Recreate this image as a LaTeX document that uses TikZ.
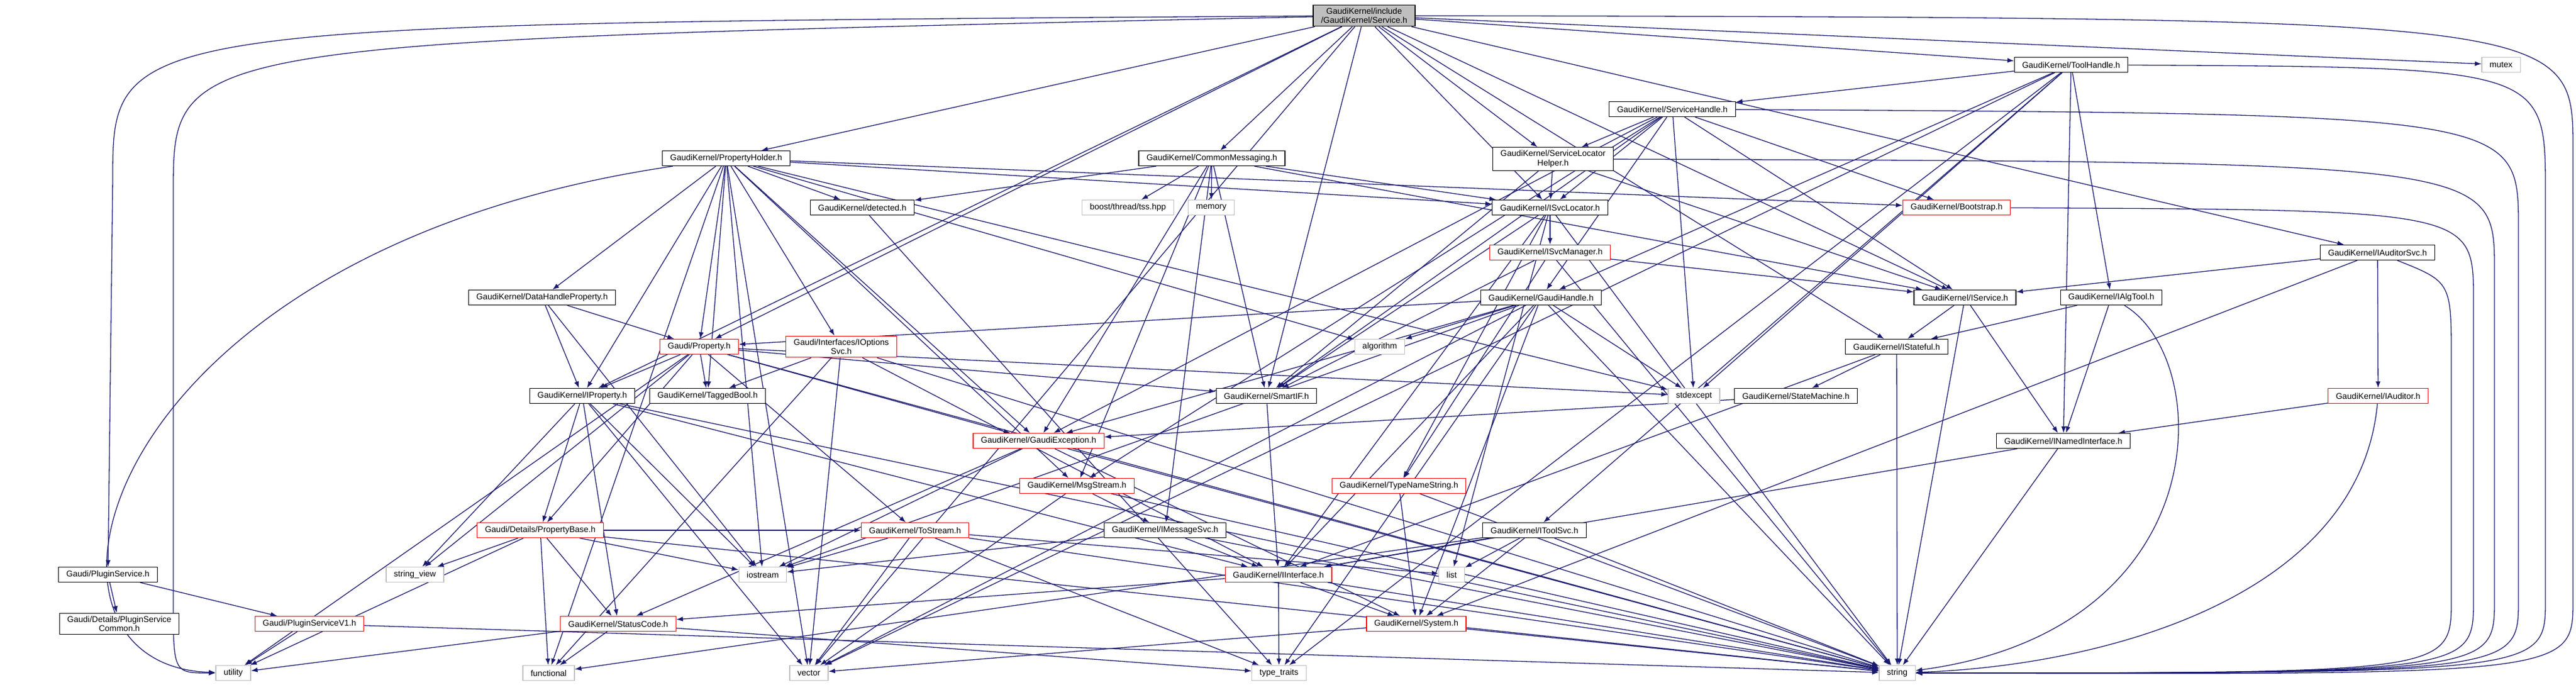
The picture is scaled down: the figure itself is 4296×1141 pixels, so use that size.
\documentclass[tikz,border=0pt]{standalone}
\usepackage{fontspec}
\setmainfont{Liberation Sans}
\usetikzlibrary{arrows.meta,backgrounds}

\definecolor{edgeblue}{RGB}{25,25,112}
\definecolor{sysgray}{RGB}{191,191,191}
\definecolor{cutred}{RGB}{255,0,0}

\begin{document}
\begin{tikzpicture}[
    x=0.5pt, y=0.5pt,
    font=\fontsize{7}{7.7}\selectfont,
    hdr/.style={draw=black, line width=0.6pt, fill=white, inner xsep=6.5pt, inner ysep=2.5pt, minimum height=12.5pt, align=center},
    hdrcut/.style={hdr, draw=cutred},
    syshdr/.style={hdr, draw=sysgray},
    roothdr/.style={hdr, fill=sysgray},
    dep/.style={draw=edgeblue, fill=none, line width=0.65pt, -{Latex[length=5.5pt,width=4pt,fill=edgeblue]}}
  ]

  \useasboundingbox (0,0) rectangle (4296,-1141);

  % Headers, top to bottom
  \node[roothdr] (svc) at (2275,-26) {GaudiKernel/include\\/GaudiKernel/Service.h};
  \node[hdr] (toolh) at (3454,-108) {GaudiKernel/ToolHandle.h};
  \node[syshdr] (mutex) at (4171,-108) {mutex};
  \node[hdr] (svch) at (2789,-182) {GaudiKernel/ServiceHandle.h};
  \node[hdr] (pholder) at (1211,-264) {GaudiKernel/PropertyHolder.h};
  \node[hdr] (cmsg) at (2021,-264) {GaudiKernel/CommonMessaging.h};
  \node[hdr] (slh) at (2590,-265) {GaudiKernel/ServiceLocator\\Helper.h};
  \node[hdr] (detected) at (1438,-346) {GaudiKernel/detected.h};
  \node[syshdr] (tss) at (1881,-346) {boost/thread/tss.hpp};
  \node[syshdr] (memory) at (2020,-346) {memory};
  \node[hdr] (isvcloc) at (2585,-346) {GaudiKernel/ISvcLocator.h};
  \node[hdrcut] (boot) at (3263,-346) {GaudiKernel/Bootstrap.h};
  \node[hdrcut] (isvcmgr) at (2585,-421) {GaudiKernel/ISvcManager.h};
  \node[hdr] (iaudsvc) at (3965,-421) {GaudiKernel/IAuditorSvc.h};
  \node[hdr] (dhprop) at (904,-496) {GaudiKernel/DataHandleProperty.h};
  \node[hdr] (ghandle) at (2570,-496) {GaudiKernel/GaudiHandle.h};
  \node[hdr] (iservice) at (3277,-496) {GaudiKernel/IService.h};
  \node[hdr] (ialgtool) at (3521,-496) {GaudiKernel/IAlgTool.h};
  \node[hdrcut] (prop) at (1166,-578) {Gaudi/Property.h};
  \node[hdrcut] (iopts) at (1403,-578) {Gaudi/Interfaces/IOptions\\Svc.h};
  \node[syshdr] (algorithm) at (2301,-578) {algorithm};
  \node[hdr] (istateful) at (3163,-578) {GaudiKernel/IStateful.h};
  \node[hdr] (iprop) at (971,-660) {GaudiKernel/IProperty.h};
  \node[hdr] (tbool) at (1180,-660) {GaudiKernel/TaggedBool.h};
  \node[hdr] (smartif) at (2112,-660) {GaudiKernel/SmartIF.h};
  \node[syshdr] (stdexcept) at (2825,-660) {stdexcept};
  \node[hdr] (statem) at (2995,-660) {GaudiKernel/StateMachine.h};
  \node[hdrcut] (iauditor) at (3966,-660) {GaudiKernel/IAuditor.h};
  \node[hdrcut] (gexc) at (1732,-735) {GaudiKernel/GaudiException.h};
  \node[hdr] (inamed) at (3441,-735) {GaudiKernel/INamedInterface.h};
  \node[hdrcut] (msgs) at (1796,-810) {GaudiKernel/MsgStream.h};
  \node[hdrcut] (tns) at (2333,-810) {GaudiKernel/TypeNameString.h};
  \node[hdrcut] (pbase) at (901,-884) {Gaudi/Details/PropertyBase.h};
  \node[hdrcut] (tostr) at (1526,-884) {GaudiKernel/ToStream.h};
  \node[hdr] (imsgsvc) at (1943,-884) {GaudiKernel/IMessageSvc.h};
  \node[hdr] (itoolsvc) at (2559,-884) {GaudiKernel/IToolSvc.h};
  \node[hdr] (plugin) at (180,-958) {Gaudi/PluginService.h};
  \node[syshdr] (strview) at (692,-958) {string\_view};
  \node[syshdr] (iostream) at (1272,-958) {iostream};
  \node[hdrcut] (iiface) at (2132,-958) {GaudiKernel/IInterface.h};
  \node[syshdr] (list) at (2421,-958) {list};
  \node[hdr] (pcommon) at (199,-1040) {Gaudi/Details/PluginService\\Common.h};
  \node[hdrcut] (pv1) at (516,-1040) {Gaudi/PluginServiceV1.h};
  \node[hdrcut] (statuscode) at (1031,-1040) {GaudiKernel/StatusCode.h};
  \node[hdrcut] (system) at (2362,-1040) {GaudiKernel/System.h};
  \node[syshdr] (utility) at (389,-1122) {utility};
  \node[syshdr] (functional) at (915,-1122) {functional};
  \node[syshdr] (vector) at (1349,-1122) {vector};
  \node[syshdr] (typetraits) at (2133,-1122) {type\_traits};
  \node[syshdr] (string) at (3164,-1122) {string};

  % Include edges, kept behind the boxes
  \begin{scope}[on background layer]
  % Service.h
  \foreach \t in {toolh,mutex,cmsg,pholder,slh,isvcloc,iservice,istateful,iaudsvc,prop,iprop,smartif,vector}
    \draw[dep] (svc) -- (\t);
  \draw[dep] (svc) .. controls (188,-40) .. (188,-300) -- (plugin);
  \draw[dep] (svc) .. controls (289,-70) .. (289,-320) -- (289,-1000) .. controls (289,-1122) .. (utility);
  \draw[dep] (svc) .. controls (4291,-30) .. (4291,-250) -- (4291,-1000) .. controls (4291,-1125) .. (string);
  % ToolHandle.h
  \foreach \t in {svch,ghandle,ialgtool,inamed,itoolsvc,stdexcept,typetraits,vector}
    \draw[dep] (toolh) -- (\t);
  \draw[dep] (toolh) .. controls (4245,-112) .. (4245,-320) -- (4245,-1000) .. controls (4245,-1122) .. (string);
  % ServiceHandle.h
  \foreach \t in {slh,isvcloc,ghandle,iservice,boot,gexc,msgs,stdexcept,smartif}
    \draw[dep] (svch) -- (\t);
  \draw[dep] (svch) .. controls (4200,-190) .. (4200,-380) -- (4200,-1000) .. controls (4200,-1122) .. (string);
  % PropertyHolder.h
  \foreach \t in {prop,iopts,detected,dhprop,iprop,tbool,isvcloc,boot,gexc,msgs,algorithm,stdexcept,iostream,vector,functional}
    \draw[dep] (pholder) -- (\t);
  \draw[dep] (pholder) .. controls (150,-420) and (0,-1110) .. (utility);
  % CommonMessaging.h
  \foreach \t in {detected,tss,memory,isvcloc,iservice,imsgsvc,msgs,smartif,gexc}
    \draw[dep] (cmsg) -- (\t);
  % ServiceLocatorHelper.h
  \foreach \t in {isvcloc,iservice,smartif}
    \draw[dep] (slh) -- (\t);
  \draw[dep] (slh) .. controls (4160,-270) .. (4160,-450) -- (4160,-1000) .. controls (4160,-1122) .. (string);
  % ISvcLocator.h, ISvcManager.h
  \foreach \t in {isvcmgr,iiface,smartif,tns,list,string}
    \draw[dep] (isvcloc) -- (\t);
  \foreach \t in {iservice,smartif,tns,string}
    \draw[dep] (isvcmgr) -- (\t);
  % GaudiHandle.h
  \foreach \t in {prop,algorithm,stdexcept,gexc,iiface,system,typetraits,vector,iostream,string}
    \draw[dep] (ghandle) -- (\t);
  % Bootstrap.h
  \draw[dep] (boot) .. controls (4125,-350) .. (4125,-500) -- (4125,-1000) .. controls (4125,-1122) .. (string);
  % IAuditorSvc.h, IAuditor.h
  \foreach \t in {iservice,iauditor,system}
    \draw[dep] (iaudsvc) -- (\t);
  \draw[dep] (iaudsvc) .. controls (4088,-470) .. (4088,-600) -- (4088,-1000) .. controls (4088,-1122) .. (string);
  \draw[dep] (iauditor) -- (inamed);
  \draw[dep] (iauditor) .. controls (3934,-1000) and (3500,-1110) .. (string);
  % IAlgTool.h, IService.h, IStateful.h
  \draw[dep] (ialgtool) -- (inamed);
  \draw[dep] (ialgtool) -- (istateful);
  \draw[dep] (ialgtool) .. controls (3694,-600) and (3700,-1050) .. (string);
  \foreach \t in {istateful,inamed,string}
    \draw[dep] (iservice) -- (\t);
  \foreach \t in {statem,iiface,string}
    \draw[dep] (istateful) -- (\t);
  \draw[dep] (statem) -- (gexc);
  \draw[dep] (inamed) -- (iiface);
  \draw[dep] (inamed) -- (string);
  % properties
  \foreach \t in {prop,iprop,iostream}
    \draw[dep] (dhprop) -- (\t);
  \foreach \t in {iprop,pbase,tbool,smartif,tostr,gexc,stdexcept,strview,utility,string}
    \draw[dep] (prop) -- (\t);
  \foreach \t in {tbool,iiface,vector,functional,string}
    \draw[dep] (iopts) -- (\t);
  \foreach \t in {pbase,iiface,strview,vector,iostream,statuscode,string}
    \draw[dep] (iprop) -- (\t);
  \foreach \t in {strview,utility,functional,statuscode,tostr,iostream,string}
    \draw[dep] (pbase) -- (\t);
  % kernel basics
  \draw[dep] (smartif) -- (iiface);
  \foreach \t in {statuscode,iostream,system,string}
    \draw[dep] (gexc) -- (\t);
  \foreach \t in {imsgsvc,vector,string}
    \draw[dep] (msgs) -- (\t);
  \foreach \t in {iiface,iostream,string}
    \draw[dep] (imsgsvc) -- (\t);
  \foreach \t in {iostream,vector,typetraits,list,string}
    \draw[dep] (tostr) -- (\t);
  \draw[dep] (tns) -- (system);
  \draw[dep] (tns) -- (string);
  \foreach \t in {iiface,list,functional,system,string}
    \draw[dep] (itoolsvc) -- (\t);
  \foreach \t in {statuscode,typetraits,system,string}
    \draw[dep] (iiface) -- (\t);
  \draw[dep] (system) -- (vector);
  \draw[dep] (system) -- (string);
  \foreach \t in {utility,functional,typetraits}
    \draw[dep] (statuscode) -- (\t);
  \draw[dep] (detected) -- (typetraits);
  % plugin service
  \draw[dep] (plugin) -- (pcommon);
  \draw[dep] (plugin) -- (pv1);
  \draw[dep] (pv1) -- (utility);
  \draw[dep] (pv1) -- (string);
  \end{scope}

\end{tikzpicture}
\end{document}
